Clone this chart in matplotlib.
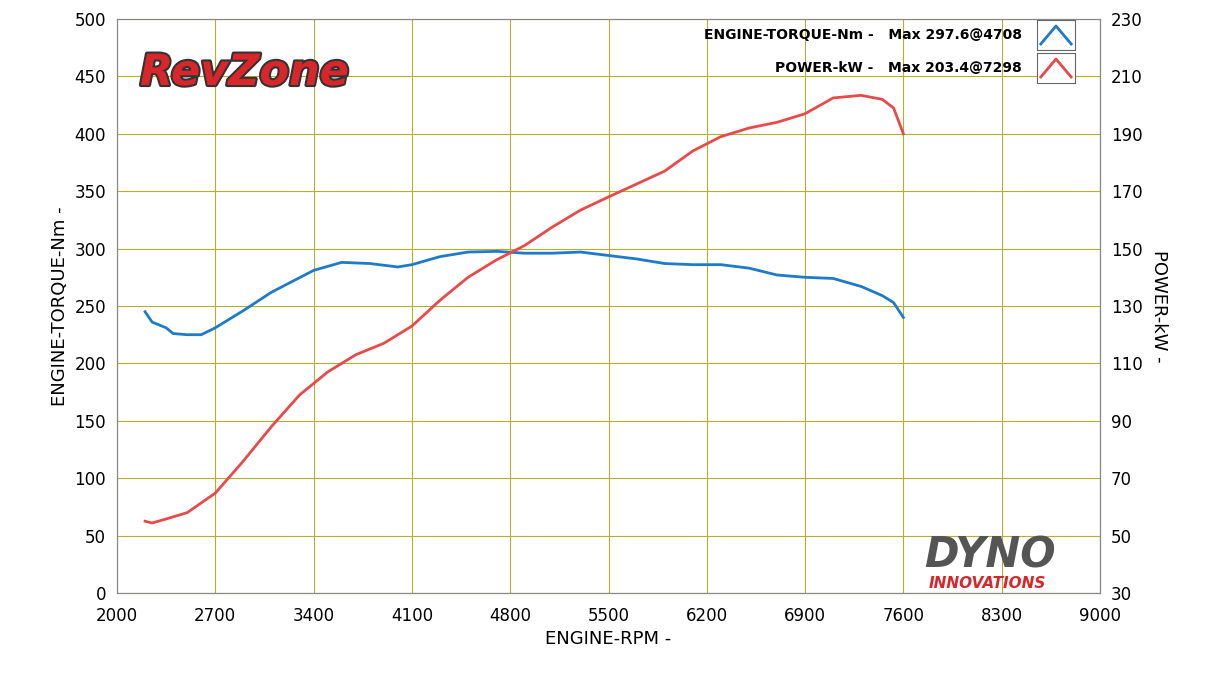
import numpy as np
import matplotlib.pyplot as plt
import matplotlib.patheffects as pe

# data read from the dyno sheet
rpm_t = [2200, 2250, 2350, 2400, 2500, 2600, 2700, 2900, 3100, 3400, 3600, 3800, 4000, 4100,
         4300, 4500, 4708, 4900, 5100, 5300, 5500, 5700, 5900, 6100, 6300, 6500, 6700, 6900,
         7100, 7300, 7450, 7530, 7600]
torque = [245, 236, 231, 226, 225, 225, 231, 246, 262, 281, 288, 287, 284, 286,
          293, 297, 297.6, 296, 296, 297, 294, 291, 287, 286, 286, 283, 277, 275,
          274, 267, 259, 253, 240]
rpm_p = [2200, 2250, 2350, 2500, 2700, 2900, 3100, 3300, 3500, 3700, 3900, 4100, 4300, 4500,
         4700, 4900, 5100, 5300, 5500, 5700, 5900, 6100, 6300, 6500, 6700, 6900, 7100, 7298,
         7450, 7530, 7600]
power = [55, 54.4, 55.8, 58, 64.8, 76, 88, 99, 107, 113, 117, 123, 132, 140,
         146, 151, 157.5, 163.4, 168, 172.5, 177, 184, 189, 192, 194, 197, 202.5, 203.4,
         202, 199, 190]

blue = '#1f7ac8'
red = '#e84a4a'
grid_c = '#b5b02c'

fig = plt.figure(figsize=(12.07, 6.75), dpi=100)
ax = fig.add_axes([117/1207, 82/675, 983/1207, 574/675])
ax.plot(rpm_t, torque, color=blue, lw=2, solid_joinstyle='round')
ax.set_xlim(2000, 9000)
ax.set_ylim(0, 500)
ax.set_xticks(np.arange(2000, 9001, 700))
ax.set_yticks(np.arange(0, 501, 50))
ax.grid(True, color=grid_c, lw=0.8)
ax.tick_params(axis='x', labelsize=12, length=0, pad=10)
ax.tick_params(axis='y', labelsize=12, length=0, pad=8)
ax.set_xlabel('ENGINE-RPM -', fontsize=13)
ax.set_ylabel('ENGINE-TORQUE-Nm -', fontsize=13)
for s in ax.spines.values():
    s.set_color('#888888')

ax2 = ax.twinx()
ax2.plot(rpm_p, power, color=red, lw=2, solid_joinstyle='round')
ax2.set_ylim(30, 230)
ax2.set_yticks(np.arange(30, 231, 20))
ax2.tick_params(labelsize=12, length=0, pad=8)
ax2.set_ylabel('POWER-kW -', fontsize=13, rotation=270, labelpad=18)
for s in ax2.spines.values():
    s.set_color('#888888')

# legend
for i, (txt, c) in enumerate([('ENGINE-TORQUE-Nm -   Max 297.6@4708', blue),
                               ('POWER-kW -   Max 203.4@7298', red)]):
    y = 35 + i * 33
    fig.text(1022/1207, 1 - y/675, txt, ha='right', va='center', fontsize=10, fontweight='bold')
    lx = fig.add_axes([1037/1207, 1 - (y+15)/675, 38/1207, 30/675])
    lx.plot([0.1, 0.5, 0.9], [0.2, 0.8, 0.2], color=c, lw=2)
    lx.set_xlim(0, 1); lx.set_ylim(0, 1)
    lx.set_xticks([]); lx.set_yticks([])
    for s in lx.spines.values():
        s.set_color('#666666')

# logos
fig.text(140/1207, 1 - 73/675, 'RevZone', fontsize=31, fontweight='bold', style='italic',
         color='#d8262b', va='center',
         path_effects=[pe.withStroke(linewidth=3, foreground='#333333')])
fig.text(990/1207, 1 - 555/675, 'DYNO', fontsize=30, fontweight='bold', style='italic',
         color='#555555', ha='center', va='center')
fig.text(987/1207, 1 - 583/675, 'INNOVATIONS', fontsize=11, fontweight='bold', style='italic',
         color='#d8262b', ha='center', va='center')

fig.savefig('out.png', dpi=100)
